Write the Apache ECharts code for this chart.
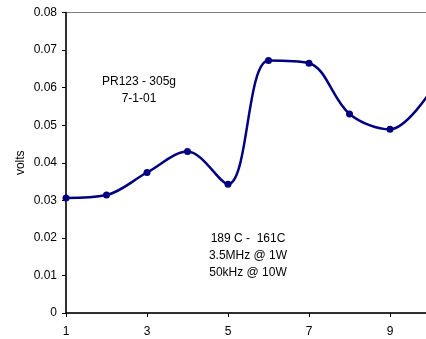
<!DOCTYPE html>
<html>
<head>
<meta charset="utf-8">
<script src="https://cdn.jsdelivr.net/npm/echarts@6/dist/echarts.min.js"></script>
<style>
html,body{margin:0;padding:0;background:#fff;}
#chart{width:426px;height:339px;}
</style>
</head>
<body>
<div id="chart"></div>
<script>
var categories = ['1','2','3','4','5','6','7','8','9','10'];
var volts = [0.0306, 0.0314, 0.0374, 0.0430, 0.0343, 0.0672, 0.0665, 0.0530, 0.0489, 0.0590];
var yTicks = [0, 0.01, 0.02, 0.03, 0.04, 0.05, 0.06, 0.07, 0.08];
var note1 = ['PR123 - 305g', '7-1-01'];
var note2 = ['189 C -  161C', '3.5MHz @ 1W', '50kHz @ 10W'];

var chart = echarts.init(document.getElementById('chart'), null, {renderer:'canvas'});
var font = 'Liberation Sans, Arial, sans-serif';
chart.setOption({
  animation: false,
  grid: {left: 66, top: 12.5, width: 364.5, bottom: 26, outerBoundsMode: 'none', containLabel: false,
    show: true, borderColor: '#808080', borderWidth: 1, backgroundColor: '#fff'},
  xAxis: {
    type: 'category', data: categories, boundaryGap: false,
    axisLine: {lineStyle: {color: '#000', width: 1.5}},
    axisTick: {interval: 1, length: 4, lineStyle: {color: '#000'}},
    axisLabel: {interval: 1, color: '#000', fontFamily: font, fontSize: 12, margin: 13},
    splitLine: {show: false}
  },
  yAxis: {
    type: 'value', min: yTicks[0], max: yTicks[yTicks.length-1], interval: 0.01,
    name: 'volts', nameLocation: 'middle', nameGap: 39, nameRotate: 90, nameMoveOverlap: false,
    nameTextStyle: {color: '#000', fontFamily: font, fontSize: 12},
    axisLine: {show: true, lineStyle: {color: '#000', width: 1.5}},
    axisTick: {show: true, length: 4, lineStyle: {color: '#000'}},
    axisLabel: {color: '#000', fontFamily: font, fontSize: 12, margin: 9,
      formatter: function(v){ return v === 0 ? '0' : v.toFixed(2); }},
    splitLine: {show: false}
  },
  series: [{
    type: 'line', data: volts, smooth: 0.35,
    symbol: 'circle', symbolSize: 7,
    lineStyle: {color: '#000080', width: 2.5},
    itemStyle: {color: '#000080'}
  }],
  graphic: [
    {type: 'text', x: 139, y: 73, style: {text: note1.join('\n'), fill: '#000', font: '12px ' + font, textAlign: 'center', textVerticalAlign: 'top', lineHeight: 17}},
    {type: 'text', x: 248, y: 230, style: {text: note2.join('\n'), fill: '#000', font: '12px ' + font, textAlign: 'center', textVerticalAlign: 'top', lineHeight: 17}}
  ]
});
</script>
</body>
</html>
